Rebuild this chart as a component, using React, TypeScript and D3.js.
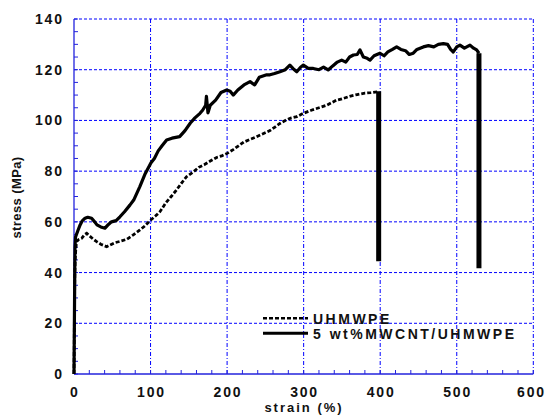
import React from 'react';
import { scaleLinear, line, range } from 'd3';

// strain (%) / stress (MPa)
const pureStrain = [0, 0.3, 0.6, 1, 1.5, 2.5, 3.5, 6, 10, 14, 16.6, 20, 25, 29.6, 35, 42.7, 48, 53.6, 60, 68.8, 77, 86.2, 93, 99.3, 106, 112.3, 120, 127, 134, 141, 147, 155, 163, 170, 178, 187, 193, 200, 208, 215, 222, 230, 238, 245, 256, 263, 269, 276, 284, 291, 299.6, 310, 320, 330, 343, 350, 360, 370, 380, 388, 396, 398];
const pureStress = [0, 10, 25, 38, 45, 50, 52.2, 53, 53.5, 55, 55.5, 54.5, 53.2, 52.2, 51.2, 50.2, 51, 51.8, 52.3, 53.1, 54.8, 56.8, 58.5, 60.5, 62.2, 64, 67.5, 70, 72.6, 75.5, 77.8, 79.5, 81.5, 82.5, 84, 85.5, 86, 87, 88.5, 90, 91.5, 92.5, 93.5, 94.5, 96, 97.5, 98.8, 100, 101, 101.5, 102.8, 104, 105, 106, 108, 108.5, 109.5, 110.2, 110.8, 111, 111.3, 111.5];

const cntStrain = [0, 0.5, 1, 1.3, 2, 5, 8, 11, 14.4, 18, 23, 27, 30, 35, 40.5, 45, 49, 55, 60, 66, 73, 78, 86, 93, 100.6, 105, 110, 115, 121, 128, 138, 145, 152, 158, 164.6, 168, 172, 173, 175, 178, 185, 192, 199.5, 204, 208, 214, 222, 230, 236, 242, 251.7, 256, 262, 269, 276, 282, 286, 291, 296, 299.6, 306, 312.6, 320, 326, 332, 338, 344, 349.7, 355, 360, 365, 370, 373.6, 378, 383, 386.7, 392, 399.7, 405, 410, 416, 421.5, 427, 433, 438, 443.2, 448, 456.3, 463, 470, 476, 482.5, 488, 492, 495.5, 500, 504.2, 510, 517.3, 522, 526, 529];
const cntStress = [0, 20, 40, 50, 54, 56.5, 58.8, 60.5, 61.4, 61.8, 61.4, 60, 58.8, 58, 57.5, 59, 60, 60.5, 62, 64, 66.6, 68.6, 73.9, 79, 83.3, 85, 88, 90, 92.3, 93, 93.6, 96, 99, 101, 102.8, 104, 106, 109.5, 103, 106, 108, 111, 112, 111.5, 110, 112, 114, 115.3, 114, 117, 118, 118, 118.5, 119.2, 120, 121.8, 120.5, 119.2, 121, 121.8, 120.5, 120.5, 120, 121, 119.9, 121.5, 123, 123.8, 123, 125, 125.8, 126, 127.8, 125, 124.5, 123.8, 125.5, 126.5, 125.5, 127, 128, 129, 128, 127.5, 126, 126.5, 128, 129, 129.5, 129, 130, 130.3, 130, 128, 127, 129, 129.7, 128.5, 129.7, 128.5, 127.8, 126.5];

// fracture drops: strain, top stress, bottom stress
const breakStrain = [398, 529];
const breakTop = [111.5, 126.5];
const breakBottom = [44.5, 41.7];

const seriesNames = ['UHMWPE', '5 wt%MWCNT/UHMWPE'];
const xTicks = [0, 100, 200, 300, 400, 500, 600];
const yTicks = [0, 20, 40, 60, 80, 100, 120, 140];

const width = 547;
const height = 416;
const left = 74;
const right = 533.3;
const top = 19;
const bottom = 374;

const axisBlue = '#2323dd';
const gridBlue = '#0000ff';
const font = "'Liberation Sans', Arial, sans-serif";

function App() {
  const x = scaleLinear().domain([0, 600]).range([left, right]);
  const y = scaleLinear().domain([0, 140]).range([bottom, top]);

  const toPath = line<[number, number]>().x(d => x(d[0])).y(d => y(d[1]));
  const pureLine = toPath(pureStrain.map((s, i) => [s, pureStress[i]]));
  const cntLine = toPath(cntStrain.map((s, i) => [s, cntStress[i]]));

  const tickLs = 1.8;

  return (
    <svg width={width} height={height} style={{ position: 'absolute', left: 0, top: 0, background: '#fff' }}>
      {/* grid */}
      {yTicks.filter(t => t > 0).map(t => (
        <line key={'gy' + t} x1={left} x2={right} y1={y(t)} y2={y(t)}
          stroke={gridBlue} strokeWidth={1} strokeDasharray="3,2" />
      ))}
      {xTicks.filter(t => t > 0).map(t => (
        <line key={'gx' + t} x1={x(t)} x2={x(t)} y1={top} y2={bottom}
          stroke={gridBlue} strokeWidth={1} strokeDasharray="4,2,1,2" />
      ))}

      {/* axes */}
      <line x1={left} x2={left} y1={top} y2={bottom} stroke={axisBlue} strokeWidth={1.3} />
      <line x1={left} x2={right} y1={bottom} y2={bottom} stroke={axisBlue} strokeWidth={1.3} />
      {range(0, 141, 5).map(t => (
        <line key={'ty' + t} x1={left} x2={left + 4} y1={y(t)} y2={y(t)} stroke={axisBlue} strokeWidth={1} />
      ))}
      {range(0, 601, 20).map(t => (
        <line key={'tx' + t} x1={x(t)} x2={x(t)} y1={bottom} y2={bottom - 4} stroke={axisBlue} strokeWidth={1} />
      ))}

      {/* tick labels */}
      {yTicks.map(t => (
        <text key={'ly' + t} x={62 + tickLs} y={y(t)} dy="0.36em" textAnchor="end"
          fontFamily={font} fontWeight="bold" fontSize={14} letterSpacing={tickLs} fill="#111">{t}</text>
      ))}
      {xTicks.map(t => (
        <text key={'lx' + t} x={Math.min(x(t) + tickLs / 2, 531.5)} y={396.5} textAnchor="middle"
          fontFamily={font} fontWeight="bold" fontSize={14} letterSpacing={tickLs} fill="#111">{t}</text>
      ))}

      {/* axis titles */}
      <text transform={`translate(20.5, 197.5) rotate(-90)`} textAnchor="middle"
        fontFamily={font} fontWeight="bold" fontSize={13} letterSpacing={0.4} fill="#111">stress (MPa)</text>
      <text x={304} y={412} textAnchor="middle"
        fontFamily={font} fontWeight="bold" fontSize={13} letterSpacing={2} fill="#111">strain (%)</text>

      {/* curves */}
      <path d={pureLine ?? ''} fill="none" stroke="#000" strokeWidth={2.8} strokeDasharray="4,2" />
      <path d={cntLine ?? ''} fill="none" stroke="#000" strokeWidth={3.2} strokeLinejoin="round" />
      {breakStrain.map((s, i) => (
        <line key={'br' + i} x1={x(s)} x2={x(s)} y1={y(breakTop[i])} y2={y(breakBottom[i])}
          stroke="#000" strokeWidth={5} />
      ))}

      {/* legend */}
      {seriesNames.map((n, i) => {
        const ly = 318.3 + i * 15;
        return (
          <g key={n}>
            <line x1={263} x2={308} y1={ly} y2={ly} stroke="#000" strokeWidth={i === 0 ? 2.6 : 3}
              strokeDasharray={i === 0 ? '4,2' : undefined} />
            <text x={313} y={ly + 5.5} fontFamily={font} fontWeight="bold" fontSize={14}
              letterSpacing={2.5} fill="#111">{n}</text>
          </g>
        );
      })}
    </svg>
  );
}

export default App;
